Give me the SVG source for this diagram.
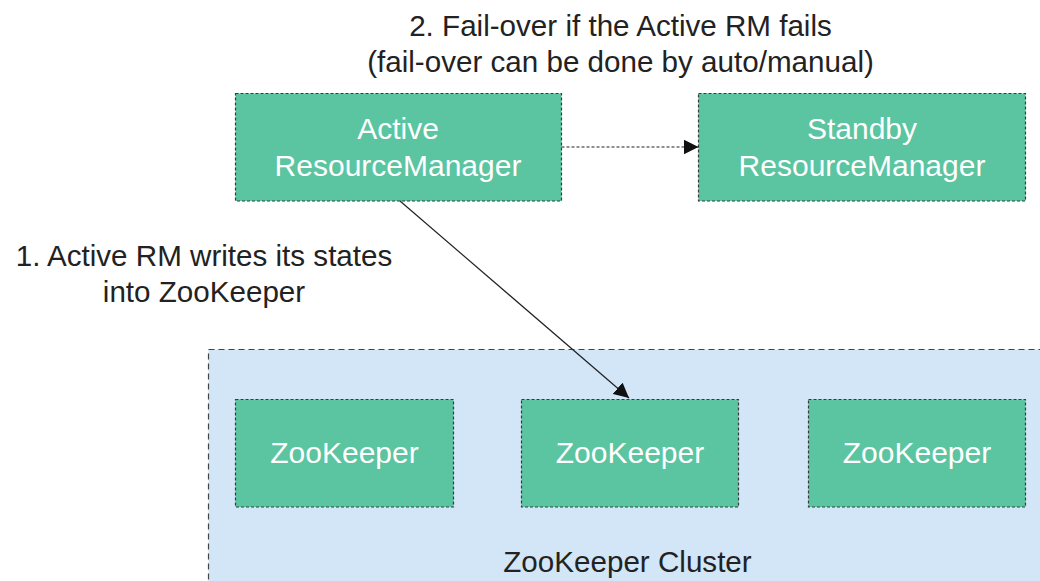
<svg xmlns="http://www.w3.org/2000/svg" width="1040" height="581" viewBox="0 0 1040 581">
<style>
.node{fill:#5BC4A0;stroke:#3a3a3a;stroke-width:1.2;stroke-dasharray:3 2}
.cluster{fill:#D2E6F8;stroke:#444;stroke-width:1.2;stroke-dasharray:6 4}
.nt{font-family:"Liberation Sans",Arial,sans-serif;font-size:30px;fill:#ffffff;text-anchor:middle}
.lt{font-family:"Liberation Sans",Arial,sans-serif;font-size:29.6px;fill:#222222;text-anchor:middle}
.conn{stroke:#222;stroke-width:1.2;fill:none}
.dash{stroke-dasharray:3 2}
</style>
<defs>
<marker id="ah" markerWidth="15" markerHeight="15" refX="15" refY="7.5" orient="auto" markerUnits="userSpaceOnUse">
<path d="M0,0 L15,7.5 L0,15 Z" fill="#111"/>
</marker>
</defs>
<rect width="1040" height="581" fill="#ffffff"/>
<g id="cluster">
<rect class="cluster" x="208.5" y="349.5" width="840" height="250"/>
<text class="lt" x="627.5" y="572">ZooKeeper Cluster</text>
</g>
<g id="active-rm">
<rect class="node" x="235.5" y="93.5" width="326" height="107.5"/>
<text class="nt" x="398" y="139">Active</text>
<text class="nt" x="398" y="176">ResourceManager</text>
</g>
<g id="standby-rm">
<rect class="node" x="698.5" y="93.5" width="327" height="107.5"/>
<text class="nt" x="862" y="139">Standby</text>
<text class="nt" x="862" y="176">ResourceManager</text>
</g>
<g id="zk1">
<rect class="node" x="235.5" y="399.5" width="218" height="107.5"/>
<text class="nt" x="344.5" y="463">ZooKeeper</text>
</g>
<g id="zk2">
<rect class="node" x="521.5" y="399.5" width="217" height="107.5"/>
<text class="nt" x="630" y="463">ZooKeeper</text>
</g>
<g id="zk3">
<rect class="node" x="808.5" y="399.5" width="217" height="107.5"/>
<text class="nt" x="917" y="463">ZooKeeper</text>
</g>
<g id="connectors">
<line class="conn dash" x1="561.5" y1="147" x2="698.5" y2="147" marker-end="url(#ah)"/>
<line class="conn" x1="400" y1="201" x2="629" y2="398" marker-end="url(#ah)"/>
</g>
<g id="labels">
<text class="lt" x="620.5" y="36">2. Fail-over if the Active RM fails</text>
<text class="lt" x="620.5" y="72">(fail-over can be done by auto/manual)</text>
<text class="lt" x="204" y="266">1. Active RM writes its states</text>
<text class="lt" x="204" y="302">into ZooKeeper</text>
</g>
</svg>
